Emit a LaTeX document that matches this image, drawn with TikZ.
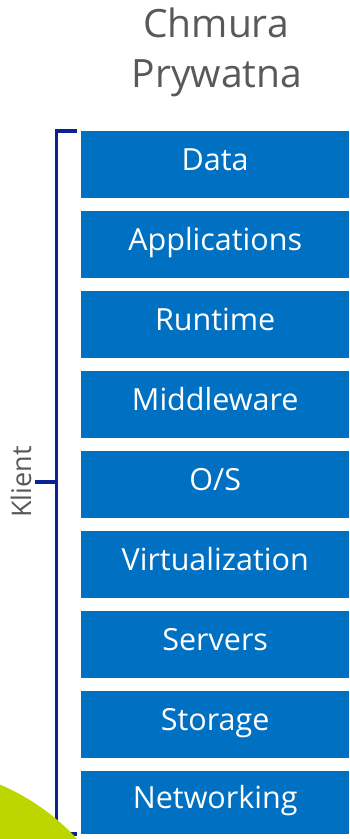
\documentclass[tikz,border=0pt]{standalone}
\usepackage{fontspec}
\setmainfont{Open Sans}
\definecolor{boxblue}{RGB}{0,113,194}
\definecolor{bracketblue}{RGB}{12,32,150}
\definecolor{titlegray}{RGB}{89,89,89}
\definecolor{limegreen}{RGB}{190,214,0}
\begin{document}
\begin{tikzpicture}[x=1pt,y=-1pt,
  layer/.style={fill=boxblue, anchor=north west, minimum width=268pt,
    minimum height=66.7pt, inner sep=0pt, text=white,
    text height=22pt, text depth=10pt, font=\fontsize{30.5}{35}\selectfont},
  title/.style={anchor=base, text=titlegray, font=\fontsize{39}{46}\selectfont},
  bracket/.style={draw=bracketblue, line width=3.8pt}]
\useasboundingbox (0,0) rectangle (349,839);

% heading
\node[title] (t1) at (216,37) {Chmura};
\node[title] (t2) at (217,87) {Prywatna};

% stack of layers
\node[layer] (data)  at (81,131) {Data};
\node[layer] (apps)  at (81,211) {Applications};
\node[layer] (run)   at (81,291) {Runtime};
\node[layer] (mid)   at (81,371) {Middleware};
\node[layer] (os)    at (81,451) {O/S};
\node[layer] (virt)  at (81,531) {Virtualization};
\node[layer] (srv)   at (81,611) {Servers};
\node[layer] (stor)  at (81,691) {Storage};
\node[layer, minimum height=63pt] (net) at (81,771) {Networking};

% bracket spanning all layers
\coordinate (btop) at (56.5,131);
\coordinate (bbot) at (56.5,834);
\coordinate (bmid) at (56.5,482);
\coordinate (btick) at (35,482);
\draw[bracket] (77,131) -- (btop) -- (bbot) -- (77,834);
\draw[bracket] (bmid) -- (btick);
\node[anchor=base, rotate=90, text=titlegray, font=\fontsize{27}{30}\selectfont]
  (klient) at (31,482) {Klient};

% green disc in the lower left corner
\fill[limegreen] (-87,990) circle[radius=223pt];
\end{tikzpicture}
\end{document}
